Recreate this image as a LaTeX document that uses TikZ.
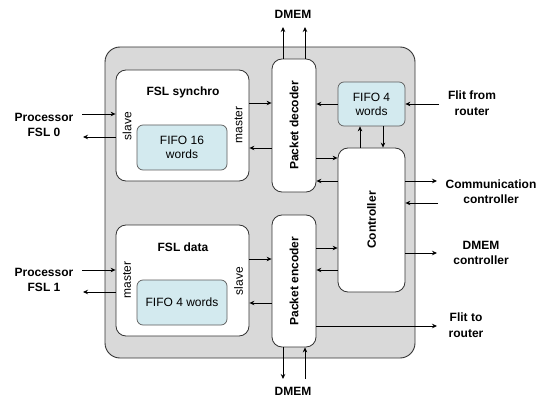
\documentclass[tikz,border=0pt]{standalone}
\usepackage{fontspec}
\setmainfont{Liberation Sans}
\usetikzlibrary{arrows.meta}
\definecolor{outergrey}{HTML}{D9D9D9}
\definecolor{fifoblue}{HTML}{D3EAEF}
\definecolor{linegrey}{HTML}{333333}
\tikzset{
  outerbox/.style={draw=linegrey, line width=0.9pt, fill=outergrey, rounded corners=15pt, inner sep=0pt},
  whitebox/.style={draw=linegrey, line width=0.8pt, fill=white, rounded corners=10pt, inner sep=0pt},
  fifobox/.style={draw=linegrey!80, line width=0.7pt, fill=fifoblue, rounded corners=6pt, inner sep=0pt, align=center, font=\fontsize{12}{15}\selectfont},
  lbl/.style={font=\fontsize{12}{15.5}\selectfont\bfseries, align=center, inner sep=0pt},
  vlbl/.style={font=\fontsize{12}{14}\selectfont\bfseries, inner sep=0pt, rotate=90},
  side/.style={font=\fontsize{12}{14}\selectfont, inner sep=0pt},
  arr/.style={draw=black, line width=0.8pt, -{Stealth[length=5pt,width=4.5pt]}},
}
\begin{document}
\begin{tikzpicture}[x=1pt,y=-1pt]
\useasboundingbox (0,0) rectangle (540,398);

% outer module
\node[outerbox, minimum width=310pt, minimum height=311pt] (outer) at (260,202.5) {};

% FSL synchro
\node[whitebox, minimum width=133pt, minimum height=111pt] (fslsync) at (182.5,125.5) {};
\node[lbl] (fslsynct) at (183,92) {FSL synchro};
\node[fifobox, minimum width=90pt, minimum height=45pt] (fifo16) at (182,147.5) {FIFO 16\\[-1pt]words};
\node[side, rotate=90] (slave0) at (127,126) {slave};
\node[side, rotate=90] (master0) at (238.5,125) {master};

% FSL data
\node[whitebox, minimum width=133pt, minimum height=111pt] (fsldata) at (182.5,280.5) {};
\node[lbl] (fsldatat) at (183,247) {FSL data};
\node[fifobox, minimum width=90pt, minimum height=45pt] (fifo4l) at (182,302.5) {FIFO 4 words};
\node[side, rotate=90] (master1) at (127,280) {master};
\node[side, rotate=90] (slave1) at (238.5,281) {slave};

% Packet decoder / encoder
\node[whitebox, minimum width=44pt, minimum height=133pt] (dec) at (294,125.5) {};
\node[vlbl] (dect) at (dec.center) {Packet decoder};
\node[whitebox, minimum width=44pt, minimum height=132pt] (enc) at (294,281) {};
\node[vlbl] (enct) at (enc.center) {Packet encoder};

% Controller
\node[whitebox, minimum width=67pt, minimum height=144pt] (ctrl) at (371.5,220) {};
\node[vlbl] (ctrlt) at (ctrl.center) {Controller};

% FIFO right
\node[fifobox, minimum width=67pt, minimum height=44pt] (fifo4r) at (371.5,104) {FIFO 4\\[-1pt]words};

% external labels
\node[lbl] (p0) at (44,125) {Processor\\FSL 0};
\node[lbl] (p1) at (44,280) {Processor\\FSL 1};
\node[lbl] (dmemtop) at (293,14) {DMEM};
\node[lbl] (dmembot) at (293,391) {DMEM};
\node[lbl] (flitfrom) at (472,103) {Flit from\\router};
\node[lbl] (comm) at (491,191.5) {Communication\\controller};
\node[lbl] (dmemc) at (481,253) {DMEM\\controller};
\node[lbl] (flitto) at (466,325) {Flit to\\router};

% free ends
\coordinate (p0in) at (82,114);
\coordinate (p0out) at (83,137);
\coordinate (p1in) at (82,270);
\coordinate (p1out) at (83,292);
\coordinate (dt1) at (283,27);
\coordinate (dt2) at (305,27);
\coordinate (db1) at (283,379);
\coordinate (db2) at (305,379);
\coordinate (ffrom) at (439,104);
\coordinate (commout) at (437,181);
\coordinate (commin) at (438,203);
\coordinate (dmemcout) at (437,253);
\coordinate (fto) at (437,326);

% processor connections
\draw[arr] (p0in) -- (fslsync.west |- p0in);
\draw[arr] (fslsync.west |- p0out) -- (p0out);
\draw[arr] (p1in) -- (fsldata.west |- p1in);
\draw[arr] (fsldata.west |- p1out) -- (p1out);

% FSL <-> packet blocks
\draw[arr] (fslsync.east |- 0,103) -- (dec.west |- 0,103);
\draw[arr] (dec.west |- 0,148) -- (fslsync.east |- 0,148);
\draw[arr] (fsldata.east |- 0,259) -- (enc.west |- 0,259);
\draw[arr] (enc.west |- 0,303) -- (fsldata.east |- 0,303);

% DMEM
\draw[arr] (dec.north -| dt1) -- (dt1);
\draw[arr] (dec.north -| dt2) -- (dt2);
\draw[arr] (enc.south -| db1) -- (db1);
\draw[arr] (db2) -- (enc.south -| db2);

% FIFO right
\draw[arr] (fifo4r.west) -- (dec.east |- fifo4r.west);
\draw[arr] (ffrom) -- (fifo4r.east |- ffrom);
\draw[arr] (ctrl.north -| 360,0) -- (fifo4r.south -| 360,0);
\draw[arr] (fifo4r.south -| 383,0) -- (ctrl.north -| 383,0);

% decoder/encoder <-> controller
\draw[arr] (dec.east |- 0,158) -- (ctrl.west |- 0,158);
\draw[arr] (ctrl.west |- 0,181) -- (dec.east |- 0,181);
\draw[arr] (enc.east |- 0,248) -- (ctrl.west |- 0,248);
\draw[arr] (ctrl.west |- 0,270) -- (enc.east |- 0,270);

% controller external
\draw[arr] (ctrl.east |- commout) -- (commout);
\draw[arr] (commin) -- (ctrl.east |- commin);
\draw[arr] (ctrl.east |- dmemcout) -- (dmemcout);
\draw[arr] (enc.east |- fto) -- (fto);
\end{tikzpicture}
\end{document}
